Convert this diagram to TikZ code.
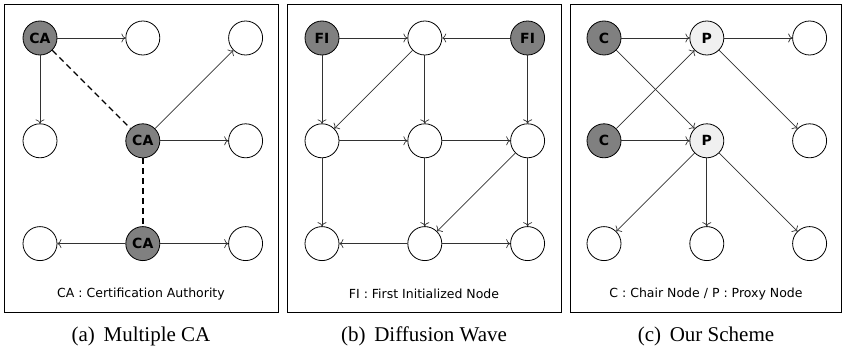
\documentclass[tikz,border=0pt]{standalone}
\usepackage{fontspec}
\setmainfont{Liberation Serif}
\setsansfont{DejaVu Sans}
\usetikzlibrary{positioning,arrows.meta}
\definecolor{chairgray}{RGB}{128,128,128}
\definecolor{proxygray}{RGB}{240,240,240}
\definecolor{linegray}{RGB}{50,50,50}

\begin{document}
\begin{tikzpicture}[x=1pt,y=-1pt,node distance=68pt,
    nd/.style={circle,draw,line width=0.8pt,minimum size=34pt,inner sep=0pt,
      font=\sffamily\bfseries\fontsize{14}{14}\selectfont},
    head/.style={nd,fill=chairgray},
    proxy/.style={nd,fill=proxygray},
    link/.style={-{To[length=4pt,width=9pt]},line width=0.7pt,draw=linegray},
    trust/.style={line width=1.4pt,dash pattern=on 6pt off 4pt},
    legend/.style={font=\sffamily\fontsize{12.5}{14}\selectfont},
    subcap/.style={font=\fontsize{21}{24}\selectfont}]
    \useasboundingbox (0,0) rectangle (842,353);
    \draw[line width=0.8pt] (4,4) rectangle (278,312);
    \draw[line width=0.8pt] (287,4) rectangle (561,312);
    \draw[line width=0.8pt] (570,4) rectangle (841.4,312);

    % (a) multiple CA
    \node[head](a1) at (40,38){CA};
    \node[nd](a2)[right=of a1]{};
    \node[nd](a3)[right=of a2]{};
    \node[nd](a4)[below=of a1]{};
    \node[head](a5)[right=of a4]{CA};
    \node[nd](a6)[right=of a5]{};
    \node[nd](a7)[below=of a4]{};
    \node[head](a8)[right=of a7]{CA};
    \node[nd](a9)[right=of a8]{};
    \path[link](a1) edge (a2)
                    edge (a4)
               (a5) edge (a3)
                    edge (a6)
               (a8) edge (a7)
                    edge (a9);
    \draw[trust] (a1) -- (a5);
    \draw[trust] (a5) -- (a8);
    \node[legend](la) at (141,294){CA : Certification Authority};
    \node[subcap](ca) at (141,336){(a)\, Multiple CA};

    % (b) diffusion wave
    \node[head](b1) at (322,38){FI};
    \node[nd](b2)[right=of b1]{};
    \node[head](b3)[right=of b2]{FI};
    \node[nd](b4)[below=of b1]{};
    \node[nd](b5)[right=of b4]{};
    \node[nd](b6)[right=of b5]{};
    \node[nd](b7)[below=of b4]{};
    \node[nd](b8)[right=of b7]{};
    \node[nd](b9)[right=of b8]{};
    \path[link](b1) edge (b2)
                    edge (b4)
               (b3) edge (b2)
                    edge (b6)
               (b2) edge (b4)
                    edge (b5)
               (b4) edge (b5)
                    edge (b7)
               (b5) edge (b6)
                    edge (b8)
               (b6) edge (b8)
                    edge (b9)
               (b8) edge (b7)
                    edge (b9);
    \node[legend](lb) at (424,294){FI : First Initialized Node};
    \node[subcap](cb) at (424,336){(b)\, Diffusion Wave};

    % (c) our scheme
    \node[head](c1) at (604,38){C};
    \node[proxy](c2)[right=of c1]{P};
    \node[nd](c3)[right=of c2]{};
    \node[head](c4)[below=of c1]{C};
    \node[proxy](c5)[right=of c4]{P};
    \node[nd](c6)[right=of c5]{};
    \node[nd](c7)[below=of c4]{};
    \node[nd](c8)[right=of c7]{};
    \node[nd](c9)[right=of c8]{};
    \path[link](c1) edge (c2)
                    edge (c5)
               (c4) edge (c2)
                    edge (c5)
               (c2) edge (c3)
                    edge (c6)
               (c5) edge (c7)
                    edge (c8)
                    edge (c9);
    \node[legend](lc) at (706,294){C : Chair Node / P : Proxy Node};
    \node[subcap](cc) at (706,336){(c)\, Our Scheme};
\end{tikzpicture}
\end{document}
